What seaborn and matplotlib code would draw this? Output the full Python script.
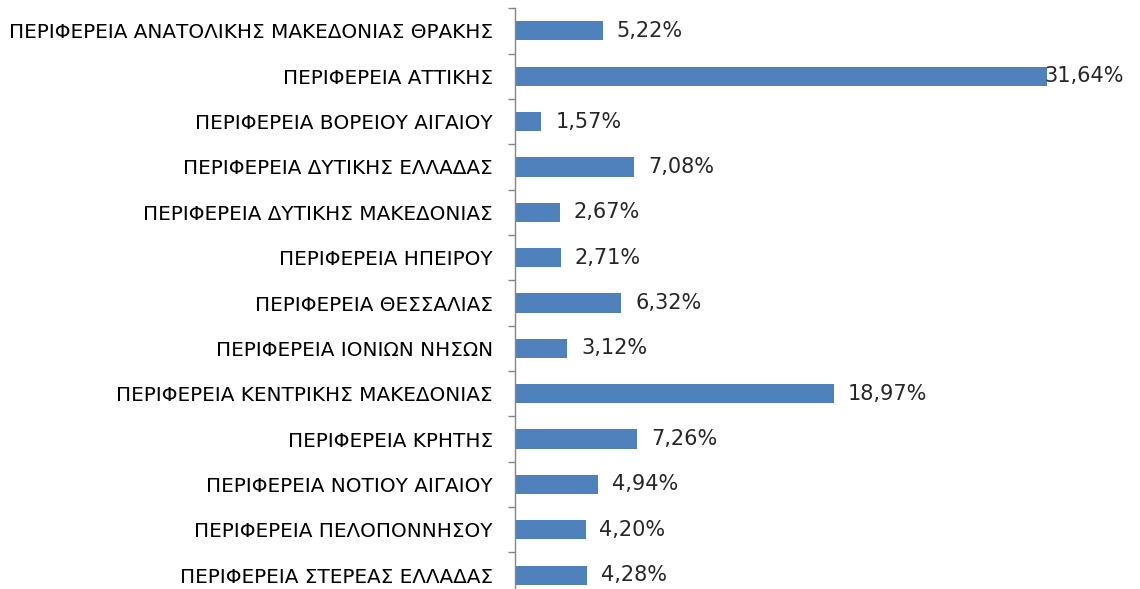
import numpy as np
import pandas as pd
from matplotlib import pyplot as plt
import seaborn as sns

regions = [
    'ΠΕΡΙΦΕΡΕΙΑ ΑΝΑΤΟΛΙΚΗΣ ΜΑΚΕΔΟΝΙΑΣ ΘΡΑΚΗΣ',
    'ΠΕΡΙΦΕΡΕΙΑ ΑΤΤΙΚΗΣ',
    'ΠΕΡΙΦΕΡΕΙΑ ΒΟΡΕΙΟΥ ΑΙΓΑΙΟΥ',
    'ΠΕΡΙΦΕΡΕΙΑ ΔΥΤΙΚΗΣ ΕΛΛΑΔΑΣ',
    'ΠΕΡΙΦΕΡΕΙΑ ΔΥΤΙΚΗΣ ΜΑΚΕΔΟΝΙΑΣ',
    'ΠΕΡΙΦΕΡΕΙΑ ΗΠΕΙΡΟΥ',
    'ΠΕΡΙΦΕΡΕΙΑ ΘΕΣΣΑΛΙΑΣ',
    'ΠΕΡΙΦΕΡΕΙΑ ΙΟΝΙΩΝ ΝΗΣΩΝ',
    'ΠΕΡΙΦΕΡΕΙΑ ΚΕΝΤΡΙΚΗΣ ΜΑΚΕΔΟΝΙΑΣ',
    'ΠΕΡΙΦΕΡΕΙΑ ΚΡΗΤΗΣ',
    'ΠΕΡΙΦΕΡΕΙΑ ΝΟΤΙΟΥ ΑΙΓΑΙΟΥ',
    'ΠΕΡΙΦΕΡΕΙΑ ΠΕΛΟΠΟΝΝΗΣΟΥ',
    'ΠΕΡΙΦΕΡΕΙΑ ΣΤΕΡΕΑΣ ΕΛΛΑΔΑΣ',
]
shares = [5.22, 31.64, 1.57, 7.08, 2.67, 2.71, 6.32, 3.12, 18.97, 7.26, 4.94, 4.20, 4.28]

df = pd.DataFrame({'region': regions, 'share': shares})

sns.set_style('white')
plt.rcParams['font.family'] = ['DejaVu Sans']

fig = plt.figure(figsize=(11.4, 5.89), dpi=100)
# plot area: left edge at the axis line, bottom band runs past the figure edge
ax = fig.add_axes([515 / 1140, 1 - 597.7 / 589, (1130 - 515) / 1140, (597.7 - 8.3) / 589])

sns.barplot(data=df, x='share', y='region', color='#4F81BD', width=0.42,
            saturation=1, edgecolor='none', ax=ax)

ax.set_xlim(0, 36.6)
ax.set_xlabel('')
ax.set_ylabel('')
ax.set_xticks([])

# ticks between the categories, labels centred on the bars
ax.set_yticks(np.arange(len(regions)) - 0.5, minor=True)
ax.tick_params(axis='y', which='major', length=0, pad=16, labelsize=14.4, colors='black')
ax.tick_params(axis='y', which='minor', length=5, width=1, color='#868686', left=True)

for side in ('top', 'right', 'bottom'):
    ax.spines[side].set_visible(False)
ax.spines['left'].set_color('#868686')
ax.spines['left'].set_linewidth(1)

# value labels
for i, v in enumerate(shares):
    txt = f'{v:.2f}%'.replace('.', ',')
    off = -2 if v == max(shares) else 10
    ax.annotate(txt, xy=(v, i), xytext=(off, 0), textcoords='offset points',
                va='center', ha='left', fontsize=15, color='#262626')

fig.savefig('out.png', dpi=100)
